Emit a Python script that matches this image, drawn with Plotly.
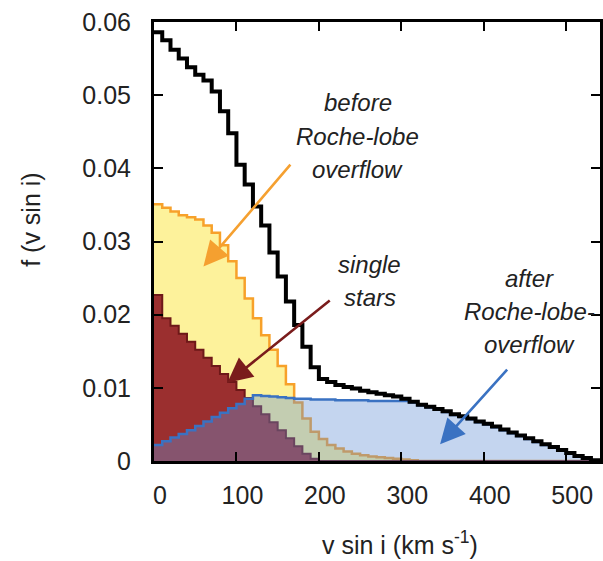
import plotly.graph_objects as go

# bin edges (km/s), 10 km/s bins from 0 to 540
bin_width = 10
n_bins = 54
edges = [i * bin_width for i in range(n_bins + 1)]

single_stars = [
    0.0227, 0.0195, 0.0185, 0.0174, 0.0163, 0.0152, 0.0141, 0.0130, 0.0119, 0.0108,
    0.0097, 0.0086, 0.0075, 0.0064, 0.0053, 0.0042, 0.0031, 0.0020, 0.0010, 0.0003,
] + [0.0] * 34

before_rlof = [
    0.0351, 0.0346, 0.0341, 0.0336, 0.0333, 0.0330, 0.0322, 0.0312, 0.0295, 0.0273,
    0.0250, 0.0222, 0.0195, 0.0172, 0.0152, 0.0130, 0.0105, 0.0080, 0.0058, 0.0040,
    0.0030, 0.0022, 0.0017, 0.0013, 0.0010, 0.0008, 0.0006, 0.0005, 0.0004, 0.0003,
    0.0002, 0.0001,
] + [0.0] * 22

after_rlof = [
    0.0022, 0.0027, 0.0032, 0.0037, 0.0042, 0.0048, 0.0054, 0.0060, 0.0066, 0.0072,
    0.0078, 0.0085, 0.0090, 0.0089, 0.0088, 0.0087, 0.0086, 0.0085, 0.0085, 0.0084,
    0.0084, 0.0084, 0.0083, 0.0083, 0.0083, 0.0083, 0.0082, 0.0082, 0.0082, 0.0082,
    0.0082, 0.0080, 0.0076, 0.0073, 0.0070, 0.0067, 0.0063, 0.0060, 0.0057, 0.0053,
    0.0050, 0.0046, 0.0042, 0.0038, 0.0034, 0.0030, 0.0026, 0.0022, 0.0018, 0.0014,
    0.0010, 0.0006, 0.0003, 0.0001,
]

total = [
    0.0586, 0.0575, 0.0562, 0.0550, 0.0538, 0.0528, 0.0520, 0.0505, 0.0478, 0.0448,
    0.0405, 0.0378, 0.0348, 0.0322, 0.0285, 0.0252, 0.0218, 0.0186, 0.0156, 0.0128,
    0.0112, 0.0108, 0.0104, 0.0101, 0.0099, 0.0096, 0.0094, 0.0092, 0.0090, 0.0088,
    0.0085, 0.0081, 0.0077, 0.0074, 0.0071, 0.0068, 0.0064, 0.0061, 0.0058, 0.0054,
    0.0051, 0.0047, 0.0043, 0.0039, 0.0035, 0.0031, 0.0027, 0.0023, 0.0019, 0.0015,
    0.0011, 0.0007, 0.0004, 0.0001,
]

x_ticks = [0, 100, 200, 300, 400, 500]
y_ticks = [0, 0.01, 0.02, 0.03, 0.04, 0.05, 0.06]
y_ticktext = ["0", "0.01", "0.02", "0.03", "0.04", "0.05", "0.06"]

label_before = ["before", "Roche-lobe", "overflow"]
label_single = ["single", "stars"]
label_after = ["after", "Roche-lobe-", "overflow"]

TXT = "#222222"
FONT = "Liberation Sans, Arial, Helvetica, sans-serif"

W, H = 603, 561
L, R, T, B = 154, 0, 22, 100
pw, ph = W - L - R, H - T - B


def step(vals):
    return edges, list(vals) + [0.0]


fig = go.Figure()

xs, ys = step(before_rlof)
fig.add_trace(go.Scatter(x=xs, y=ys, mode="lines", line_shape="hv",
                         line=dict(color="#f7a12a", width=2.5),
                         fill="tozeroy", fillcolor="#fdf29b", hoverinfo="skip"))
xs, ys = step(single_stars)
fig.add_trace(go.Scatter(x=xs, y=ys, mode="lines", line_shape="hv",
                         line=dict(color="#6e1818", width=2),
                         fill="tozeroy", fillcolor="#9b2f2f", hoverinfo="skip"))
xs, ys = step(after_rlof)
fig.add_trace(go.Scatter(x=xs, y=ys, mode="lines", line_shape="hv",
                         line=dict(color="#3a72c2", width=2.5),
                         fill="tozeroy", fillcolor="rgba(100,145,212,0.38)",
                         hoverinfo="skip"))
xs, ys = step(total)
fig.add_trace(go.Scatter(x=xs, y=ys, mode="lines", line_shape="hv",
                         line=dict(color="#000000", width=4), hoverinfo="skip"))

annotations = []


def add_lines(lines, xc, ys_):
    for t, yy in zip(lines, ys_):
        annotations.append(dict(x=xc, y=yy, xref="x", yref="y", text="<i>" + t + "</i>",
                                showarrow=False, xanchor="center", yanchor="middle",
                                font=dict(family=FONT, size=24, color=TXT)))


add_lines(label_before, 247, [0.0490, 0.0443, 0.0398])
add_lines(label_single, 262, [0.0268, 0.0224])
add_lines(label_after, 456, [0.0250, 0.0204, 0.0159])

# arrows (tail -> head in data coordinates)
arrows = [
    ((167, 0.0407), (60, 0.0266), "#f5a030"),
    ((215, 0.0221), (89, 0.0107), "#7a1c1c"),
    ((430, 0.0127), (347, 0.0023), "#3a72c2"),
]
for (tx, ty), (hx, hy), col in arrows:
    annotations.append(dict(x=hx, y=hy, ax=tx, ay=ty, xref="x", yref="y",
                            axref="x", ayref="y", text="", showarrow=True,
                            arrowhead=2, arrowsize=1.9, arrowwidth=2.6,
                            arrowcolor=col))

# axis titles, placed by page pixel centre
titles = [
    ("f (v sin i)", 30, 220, -90),
    ("v sin i (km s<sup>-1</sup>)", 402, 543, 0),
]
for text, px, py, ang in titles:
    annotations.append(dict(x=(px - L) / pw, y=(H - B - py) / ph,
                            xref="paper", yref="paper", text=text, showarrow=False,
                            textangle=ang, xanchor="center", yanchor="middle",
                            font=dict(family=FONT, size=25, color=TXT)))

fig.update_layout(
    width=W, height=H,
    margin=dict(l=L, r=R, t=T, b=B, pad=0),
    plot_bgcolor="white", paper_bgcolor="white",
    showlegend=False,
    font=dict(family=FONT, color=TXT),
    annotations=annotations,
    xaxis=dict(range=[0, 541], tickvals=x_ticks, ticks="inside", ticklen=9,
               tickwidth=2, tickcolor="black", showline=True, linewidth=3,
               linecolor="black", mirror="ticks", showgrid=False, zeroline=False,
               tickfont=dict(size=25, color=TXT), ticklabelshift=6,
               ticklabelstandoff=10),
    yaxis=dict(range=[0, 0.06], tickvals=y_ticks, ticktext=y_ticktext,
               ticks="inside", ticklen=9, tickwidth=2, tickcolor="black",
               showline=True, linewidth=3, linecolor="black", mirror="ticks",
               showgrid=False, zeroline=False,
               tickfont=dict(size=25, color=TXT), ticklabelstandoff=15),
)

fig.write_html(
    "out.html",
    config={"displayModeBar": False},
    post_script="document.body.style.margin='0';document.body.style.overflow='hidden';",
)
